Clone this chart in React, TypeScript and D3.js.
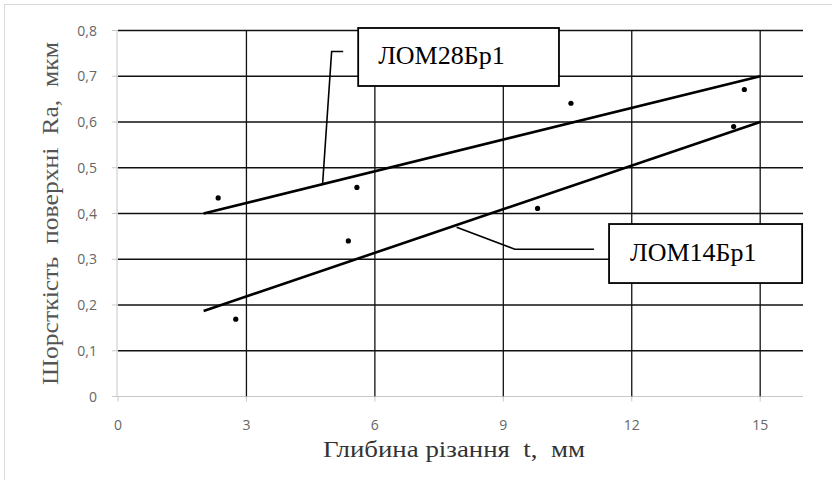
import React from "react";
import * as d3 from "d3";

const xTicks = [0, 3, 6, 9, 12, 15];
const yTicks = [0, 0.1, 0.2, 0.3, 0.4, 0.5, 0.6, 0.7, 0.8];

const seriesNames = ["ЛОМ28Бр1", "ЛОМ14Бр1"];
const lom28X = [2.34, 5.58, 10.58, 14.63];
const lom28Y = [0.434, 0.457, 0.641, 0.671];
const lom14X = [2.75, 5.38, 9.8, 14.38];
const lom14Y = [0.169, 0.34, 0.411, 0.59];
const trend28 = [[2, 0.4], [15, 0.7]];
const trend14 = [[2, 0.187], [15, 0.6]];

const xTitle = "Глибина різання\u00a0 t,\u00a0 мм";
const yTitle = "Шорсткість\u00a0 поверхні\u00a0 Ra,\u00a0 мкм";

const W = 832;
const H = 480;

export default function App() {
  const x = d3.scaleLinear().domain([0, 16]).range([118, 803]);
  const y = d3.scaleLinear().domain([0, 0.8]).range([396.5, 30.5]);
  const line = d3.line<number[]>().x((d) => x(d[0])).y((d) => y(d[1]));
  const fmt = (v: number) => (v === 0 ? "0" : d3.format(".1f")(v).replace(".", ","));

  const pts28 = lom28X.map((v, i) => [v, lom28Y[i]]);
  const pts14 = lom14X.map((v, i) => [v, lom14Y[i]]);

  // callouts (in data units)
  const call28 = [[4.78, 0.466], [4.99, 0.754], [5.26, 0.754]];
  const call14 = [[7.91, 0.37], [9.27, 0.322], [11.12, 0.322]];
  const box28 = { x0: 5.61, x1: 10.3, y0: 0.8055, y1: 0.6787 };
  const box14 = { x0: 11.47, x1: 15.98, y0: 0.377, y1: 0.248 };

  const serif = "'Liberation Serif', 'Times New Roman', serif";
  const titleFont = "'Liberation Serif', serif";
  const sans = "'Open Sans', 'Liberation Sans', sans-serif";

  return (
    <svg
      width={W}
      height={H}
      style={{ position: "absolute", left: 0, top: 0, background: "#fff" }}
    >
      <rect x={4.5} y={4.5} width={840} height={490} fill="#fff" stroke="#d9d9d9" />
      {/* axes (gray) */}
      <line x1={x(0) - 1} x2={x(0) - 1} y1={y(0.8)} y2={y(0)} stroke="#c8c8c8" strokeWidth={1} />
      <line x1={x(0) - 6} x2={x(16)} y1={y(0)} y2={y(0)} stroke="#c8c8c8" strokeWidth={1.2} />
      {/* horizontal grid */}
      {yTicks.map((t) => (
        <g key={"h" + t}>
          <line x1={x(0) - 6} x2={x(0)} y1={y(t)} y2={y(t)} stroke="#c8c8c8" />
          {t > 0 && (
            <line x1={x(0)} x2={x(16)} y1={y(t)} y2={y(t)} stroke="#111" strokeWidth={1.3} />
          )}
          <text
            x={97}
            y={y(t) + 5}
            textAnchor="end"
            fontFamily={sans}
            fontSize={14}
            fill="#666"
          >
            {fmt(t)}
          </text>
        </g>
      ))}
      {/* vertical grid */}
      {xTicks.map((t) => (
        <g key={"v" + t}>
          {t > 0 && (
            <line x1={x(t)} x2={x(t)} y1={y(0.8)} y2={y(0)} stroke="#111" strokeWidth={1.3} />
          )}
          <line x1={x(t)} x2={x(t)} y1={y(0)} y2={y(0) + 5} stroke="#c8c8c8" />
          <text
            x={x(t)}
            y={430}
            textAnchor="middle"
            fontFamily={sans}
            fontSize={14}
            fill="#666"
          >
            {t}
          </text>
        </g>
      ))}
      {/* trend lines */}
      <path d={line(trend28) || ""} fill="none" stroke="#000" strokeWidth={2.6} />
      <path d={line(trend14) || ""} fill="none" stroke="#000" strokeWidth={2.6} />
      {/* points */}
      {pts28.map((p, i) => (
        <circle key={"a" + i} cx={x(p[0])} cy={y(p[1])} r={2.6} fill="#000" />
      ))}
      {pts14.map((p, i) => (
        <circle key={"b" + i} cx={x(p[0])} cy={y(p[1])} r={2.6} fill="#000" />
      ))}
      {/* callouts */}
      <path d={line(call28) || ""} fill="none" stroke="#000" strokeWidth={1.6} />
      <path d={line(call14) || ""} fill="none" stroke="#000" strokeWidth={1.6} />
      <rect
        x={x(box28.x0)}
        y={y(box28.y0)}
        width={x(box28.x1) - x(box28.x0)}
        height={y(box28.y1) - y(box28.y0)}
        fill="#fff"
        stroke="#000"
        strokeWidth={1.8}
      />
      <text
        x={x(box28.x0) + 20}
        y={y(box28.y0) + 36}
        fontFamily={serif}
        fontSize={26}
        fill="#000"
      >
        {seriesNames[0]}
      </text>
      <rect
        x={x(box14.x0)}
        y={y(box14.y0)}
        width={x(box14.x1) - x(box14.x0)}
        height={y(box14.y1) - y(box14.y0)}
        fill="#fff"
        stroke="#000"
        strokeWidth={1.8}
      />
      <text
        x={x(box14.x0) + 21}
        y={y(box14.y0) + 37}
        fontFamily={serif}
        fontSize={26}
        fill="#000"
      >
        {seriesNames[1]}
      </text>
      {/* axis titles */}
      <text
        x={323}
        y={457}
        fontFamily={titleFont}
        fontSize={24}
        fill="#333"
        textLength={262}
        lengthAdjust="spacingAndGlyphs"
      >
        {xTitle}
      </text>
      <text
        transform={`translate(58, 385) rotate(-90)`}
        fontFamily={titleFont}
        fontSize={24}
        fill="#555"
        textLength={343}
        lengthAdjust="spacingAndGlyphs"
      >
        {yTitle}
      </text>
    </svg>
  );
}
